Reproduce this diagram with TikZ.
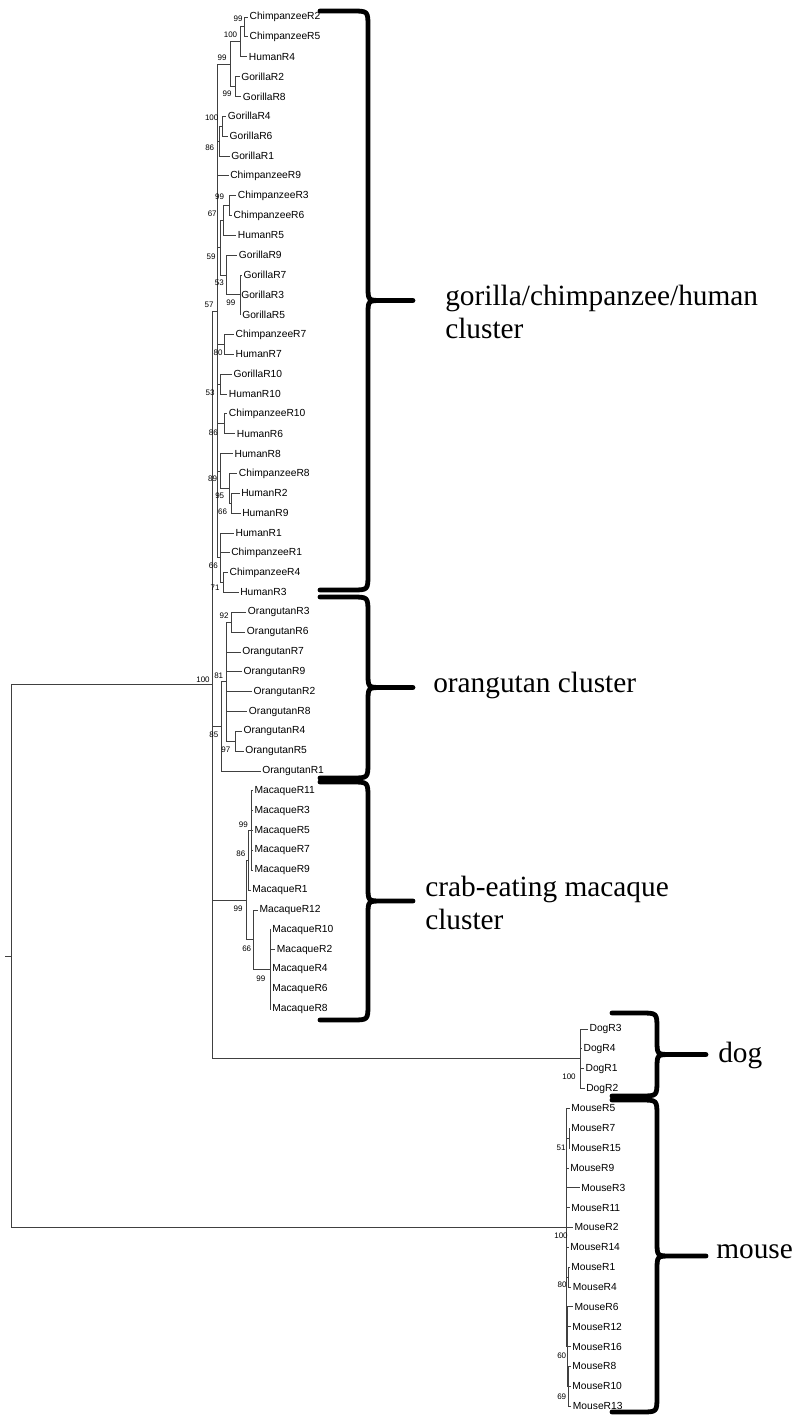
\documentclass[tikz,border=0pt]{standalone}
\usepackage{fontspec}
\setmainfont{Liberation Sans}
\newfontfamily\clusterfont{Liberation Serif}
\tikzset{
  br/.style={line width=0.6pt, black!75},
  leaf/.style={anchor=west, inner sep=0pt, inner xsep=1pt, font=\fontsize{7.7}{9}\selectfont},
  bs/.style={inner sep=0pt, font=\fontsize{6}{7}\selectfont},
  clbr/.style={line width=3.6pt, line cap=round, line join=round},
  clab/.style={anchor=west, align=left, inner sep=0pt, font=\clusterfont\fontsize{22}{24.75}\selectfont},
}
% end x, spine x, tip x, top y, bottom y
\newcommand{\clbrace}[5]{%
  \draw[clbr] (#1,#4) -- ({#2-16},#4) .. controls (#2,#4) .. (#2,{#4+16})
    -- (#2,{(#4+#5)/2-14}) .. controls (#2,{(#4+#5)/2}) .. ({#2+14},{(#4+#5)/2})
    -- (#3,{(#4+#5)/2}) -- ({#2+14},{(#4+#5)/2})
    .. controls (#2,{(#4+#5)/2}) .. (#2,{(#4+#5)/2+14})
    -- (#2,{#5-16}) .. controls (#2,#5) .. ({#2-16},#5) -- (#1,#5);}
\begin{document}
\begin{tikzpicture}[x=0.75pt, y=-0.75pt]
  \useasboundingbox (0,0) rectangle (798,1416);

  %—————— hojas ——————————————————————————————————————————————————
  \foreach \nm/\xx/\tx [count=\i from 0] in {
    cR2/248/ChimpanzeeR2, cR5/248/ChimpanzeeR5, hR4/247.3/HumanR4,
    gR2/239.7/GorillaR2, gR8/241.3/GorillaR8, gR4/226.3/GorillaR4,
    gR6/228/GorillaR6, gR1/229.7/GorillaR1, cR9/228.7/ChimpanzeeR9,
    cR3/236.3/ChimpanzeeR3, cR6/232/ChimpanzeeR6, hR5/236.3/HumanR5,
    gR9/237.3/GorillaR9, gR7/242/GorillaR7, gR3/239.7/GorillaR3,
    gR5/240.7/GorillaR5, cR7/234/ChimpanzeeR7, hR7/234/HumanR7,
    gR10/232/GorillaR10, hR10/227.3/HumanR10, cR10/227.3/ChimpanzeeR10,
    hR6/235.3/HumanR6, hR8/233/HumanR8, cR8/237.3/ChimpanzeeR8,
    hR2/239.7/HumanR2, hR9/240.7/HumanR9, hR1/234/HumanR1,
    cR1/229.7/ChimpanzeeR1, cR4/228/ChimpanzeeR4, hR3/238.7/HumanR3,
    oR3/246.3/OrangutanR3, oR6/245.3/OrangutanR6, oR7/240.7/OrangutanR7,
    oR9/242/OrangutanR9, oR2/252/OrangutanR2, oR8/247.3/OrangutanR8,
    oR4/242/OrangutanR4, oR5/243.7/OrangutanR5, oR1/260.7/OrangutanR1,
    mR11/253/MacaqueR11, mR3/253/MacaqueR3, mR5/253/MacaqueR5,
    mR7/253/MacaqueR7, mR9/253/MacaqueR9, mR1/250.7/MacaqueR1,
    mR12/258/MacaqueR12, mR10/270.7/MacaqueR10, mR2/275.3/MacaqueR2,
    mR4/270.7/MacaqueR4, mR6/270.7/MacaqueR6, mR8/270.7/MacaqueR8,
    dR3/588/DogR3, dR4/582/DogR4, dR1/584/DogR1, dR2/584.7/DogR2,
    msR5/569.7/MouseR5, msR7/569.7/MouseR7, msR15/569.7/MouseR15,
    msR9/568.7/MouseR9, msR3/579.7/MouseR3, msR11/569.7/MouseR11,
    msR2/573/MouseR2, msR14/568.7/MouseR14, msR1/569.7/MouseR1,
    msR4/571.3/MouseR4, msR6/573/MouseR6, msR12/570.7/MouseR12,
    msR16/570.7/MouseR16, msR8/570.7/MouseR8, msR10/570.7/MouseR10,
    msR13/571.3/MouseR13}
    \node[leaf] (\nm) at (\xx,{17+19.843*\i}) {\tx};

  %—————— nodos internos ——————————————————————————————————————————
  % gorila/chimpancé/humano
  \coordinate (n1) at (244.3,26.9);
  \coordinate (n2) at (240.7,41.8);
  \coordinate (n3) at (235,86.45);
  \coordinate (n4) at (230,64.1);
  \coordinate (n5) at (222,126.15);
  \coordinate (n6) at (219.5,141);
  \coordinate (n7) at (229.3,205.5);
  \coordinate (n8) at (223.3,220.4);
  \coordinate (n9) at (240,294.8);
  \coordinate (n10) at (226,275);
  \coordinate (n11) at (220.7,247.7);
  \coordinate (n12) at (224.3,344.4);
  \coordinate (n13) at (220.3,384.1);
  \coordinate (n14) at (224.3,423.8);
  \coordinate (n15) at (231.7,503.15);
  \coordinate (n16) at (229.3,488.3);
  \coordinate (n17) at (220.7,470.9);
  \coordinate (n18) at (223.3,582.5);
  \coordinate (n19) at (220.7,557.7);
  \coordinate (ga) at (217.7,310.9);
  % orangután
  \coordinate (o1) at (231.7,622.2);
  \coordinate (o2) at (235,741.25);
  \coordinate (o3) at (226.7,681.7);
  \coordinate (orc) at (221.7,726.4);
  % macaco
  \coordinate (m1) at (251.7,830.55);
  \coordinate (m2) at (248.3,860.3);
  \coordinate (m3) at (270.3,969.5);
  \coordinate (m4) at (253.3,939.7);
  \coordinate (mac) at (246,900);
  % perro, primates
  \coordinate (dog) at (580,1058.75);
  \coordinate (pr) at (212.7,684.8);
  % ratón
  \coordinate (u1) at (569.3,1138.15);
  \coordinate (u2) at (568,1277.05);
  \coordinate (u3) at (568.5,1386.15);
  \coordinate (u4) at (567.5,1346.5);
  \coordinate (mo) at (566.7,1227.45);
  % raíz
  \coordinate (root) at (11,956.1);
  \coordinate (stub) at (5,956.1);

  %—————— ramas ——————————————————————————————————————————————————
  \foreach \p/\c in {n1/cR2, n1/cR5, n2/hR4, n3/gR2, n3/gR8, n5/gR4, n5/gR6,
    n6/gR1, ga/cR9, n7/cR3, n7/cR6, n8/hR5, n10/gR9, n9/gR7, n9/gR3, n9/gR5,
    n12/cR7, n12/hR7, n13/gR10, n13/hR10, n14/cR10, n14/hR6, n17/hR8,
    n16/cR8, n15/hR2, n15/hR9, n19/hR1, n19/cR1, n18/cR4, n18/hR3,
    o1/oR3, o1/oR6, o3/oR7, o3/oR9, o3/oR2, o3/oR8, o2/oR4, o2/oR5, orc/oR1,
    m1/mR11, m1/mR3, m1/mR5, m1/mR7, m1/mR9, m2/mR1, m4/mR12,
    m3/mR10, m3/mR2, m3/mR4, m3/mR6, m3/mR8,
    dog/dR3, dog/dR4, dog/dR1, dog/dR2,
    mo/msR5, u1/msR7, u1/msR15, mo/msR9, mo/msR3, mo/msR11, mo/msR2,
    mo/msR14, u2/msR1, u2/msR4, u4/msR6, u4/msR12, u4/msR16,
    u3/msR8, u3/msR10, u3/msR13}
    \draw[br] (\p) |- (\c.west);
  \foreach \p/\c in {n2/n1, n4/n2, n4/n3, n6/n5, ga/n4, ga/n6, n8/n7,
    n11/n8, n10/n9, n11/n10, ga/n11, ga/n12, ga/n13, ga/n14, n16/n15,
    n17/n16, ga/n17, n19/n18, ga/n19, o3/o1, o3/o2, orc/o3, m2/m1,
    mac/m2, m4/m3, mac/m4, pr/ga, pr/orc, pr/mac, pr/dog,
    mo/u1, mo/u2, u4/u3, mo/u4, root/pr, root/mo}
    \draw[br] (\p) |- (\c);
  \draw[br] (stub) -- (root);

  %—————— valores bootstrap ———————————————————————————————————————
  \foreach \nm/\xx/\yy/\tx in {b1/238/19/99, b2/230.5/35/100, b3/222/58/99,
    b4/227/94/99, b5/211.7/117.7/100, b6/209.7/148/86, b7/219.5/196.7/99,
    b8/212.2/214/67, b9/211/256.7/59, b10/219.3/282.7/53, b11/230.8/303/99,
    b12/209/305/57, b13/218/353/80, b14/210/392.7/53, b15/213.3/432.7/86,
    b16/212.5/479/89, b17/219.7/496/95, b18/222.5/511.7/66,
    b19/213.3/566/66, b20/215/588/71, b21/224/616/92, b22/218.7/676/81,
    b23/203/679.3/100, b24/213.8/735/85, b25/225.8/750/97,
    b26/243.3/825/99, b27/240.8/854/86, b28/238/909/99, b29/246.7/948.7/66,
    b30/260.8/979/99, b31/569/1076.7/100, b32/561/1148/51,
    b33/561/1236/100, b34/562/1285/80, b35/561.7/1356/60, b36/561.7/1396.7/69}
    \node[bs] (\nm) at (\xx,\yy) {\tx};

  %—————— llaves y grupos ——————————————————————————————————————————
  \clbrace{320}{368}{413}{11}{590}
  \clbrace{320}{368}{413}{597}{778}
  \clbrace{320}{368}{413}{782}{1020}
  \clbrace{612}{657}{706}{1013}{1096}
  \clbrace{612}{657}{706}{1100}{1412}
  \node[clab] (gch) at (445,312) {gorilla/chimpanzee/human\\cluster};
  \node[clab] (ora) at (433,685) {orangutan cluster};
  \node[clab] (mcq) at (425,903) {crab-eating macaque\\cluster};
  \node[clab] (dgl) at (718,1055) {dog};
  \node[clab] (msl) at (716,1252) {mouse};
\end{tikzpicture}
\end{document}
